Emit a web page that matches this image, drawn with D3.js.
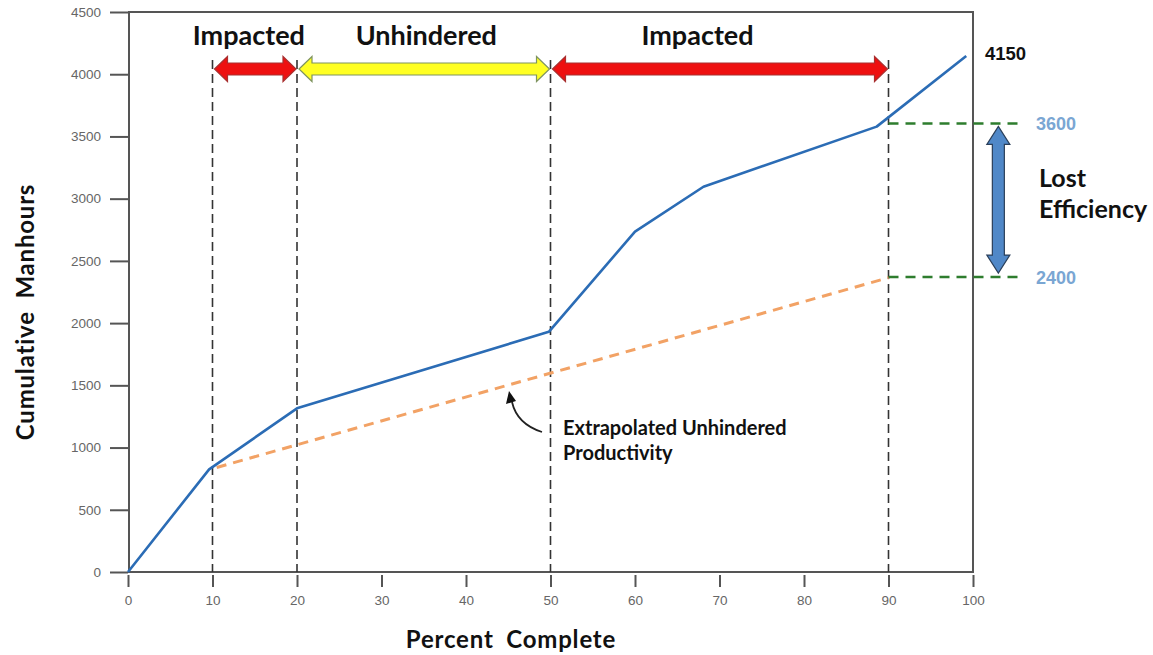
<!DOCTYPE html>
<html>
<head>
<meta charset="utf-8">
<script src="https://cdn.jsdelivr.net/npm/d3@7"></script>
<style>
  html, body { margin: 0; padding: 0; background: #fff; }
  svg { display: block; }
</style>
</head>
<body>
<svg id="chart" width="1153" height="655"></svg>
<script>
// ---------- data ----------
const xTicks = [0, 10, 20, 30, 40, 50, 60, 70, 80, 90, 100];
const yTicks = [0, 500, 1000, 1500, 2000, 2500, 3000, 3500, 4000, 4500];
const actualPct = [0, 9.6, 20, 49.8, 60, 68.1, 88.6, 99.2];
const actualHours = [0, 825, 1315, 1930, 2735, 3096, 3579, 4147];
const extrapPct = [10.5, 90];
const extrapHours = [840, 2365];
const phaseBounds = [10, 20, 50, 90];
const phaseNames = ["Impacted", "Unhindered", "Impacted"];
const phaseFrom = [10, 20, 50];
const phaseTo = [20, 50, 90];
const phaseLabelX = [14.3, 35.3, 67.4];
const phaseColors = ["#ee1010", "#ffff22", "#ee1010"];
const phaseStroke = ["#a83030", "#7f9460", "#a83030"];
const finalLabel = "4150";
const lostLevels = [3605, 2370];
const lostLabels = ["3600", "2400"];
const lostTitle = ["Lost", "Efficiency"];
const annotationLines = ["Extrapolated Unhindered", "Productivity"];
const xTitle = "Percent Complete";
const yTitle = "Cumulative Manhours";

// ---------- scales ----------
const svg = d3.select("#chart");
const x = d3.scaleLinear().domain([0, 100]).range([128, 973]);
const y = d3.scaleLinear().domain([0, 4500]).range([572, 12]);

// frame
svg.append("rect")
  .attr("x", x(0) + 1).attr("y", y(4500))
  .attr("width", x(100) - x(0) - 1).attr("height", y(0) - y(4500))
  .attr("fill", "none").attr("stroke", "#555").attr("stroke-width", 2);

// y axis
const yAxis = svg.append("g")
  .attr("transform", `translate(${x(0)},0)`)
  .call(d3.axisLeft(y).tickValues(yTicks).tickFormat(d3.format("d")).tickSize(18).tickPadding(9));
yAxis.select(".domain").remove();
yAxis.selectAll(".tick line").attr("stroke", "#555").attr("stroke-width", 2);
yAxis.selectAll(".tick text")
  .attr("fill", "#666").style("font-family", "Liberation Sans, Arial, sans-serif")
  .style("font-size", "13.5px");

// x axis
const xAxis = svg.append("g")
  .attr("transform", `translate(0,${y(0) + 3})`)
  .call(d3.axisBottom(x).tickValues(xTicks).tickFormat(d3.format("d")).tickSize(12).tickPadding(8));
xAxis.select(".domain").remove();
xAxis.selectAll(".tick line").attr("stroke", "#555").attr("stroke-width", 2);
xAxis.selectAll(".tick text")
  .attr("fill", "#666").style("font-family", "Liberation Sans, Arial, sans-serif")
  .style("font-size", "13.5px");

// vertical phase boundaries
svg.selectAll("line.bound").data(phaseBounds).enter().append("line")
  .attr("class", "bound")
  .attr("x1", d => x(d)).attr("x2", d => x(d))
  .attr("y1", 60).attr("y2", y(0))
  .attr("stroke", "#333").attr("stroke-width", 1.6)
  .attr("stroke-dasharray", "9,5");

// green lost-efficiency guides
svg.selectAll("line.lost").data(lostLevels).enter().append("line")
  .attr("class", "lost")
  .attr("x1", x(90)).attr("x2", x(105.6))
  .attr("y1", d => y(d)).attr("y2", d => y(d))
  .attr("stroke", "#2e7d2e").attr("stroke-width", 2.5)
  .attr("stroke-dasharray", "10,7");

// extrapolated line
const extrap = extrapPct.map((p, i) => [p, extrapHours[i]]);
svg.append("path")
  .datum(extrap)
  .attr("d", d3.line().x(d => x(d[0])).y(d => y(d[1])))
  .attr("fill", "none").attr("stroke", "#f2a265").attr("stroke-width", 3)
  .attr("stroke-dasharray", "10,7");

// actual line
const actual = actualPct.map((p, i) => [p, actualHours[i]]);
svg.append("path")
  .datum(actual)
  .attr("d", d3.line().x(d => x(d[0])).y(d => y(d[1])))
  .attr("fill", "none").attr("stroke", "#2b6cb5").attr("stroke-width", 2.6)
  .attr("stroke-linejoin", "round");

// double-headed arrows
function hArrow(x1, x2, cy, bh, hh, hl) {
  return `M${x1},${cy} L${x1 + hl},${cy - hh} L${x1 + hl},${cy - bh} L${x2 - hl},${cy - bh} ` +
         `L${x2 - hl},${cy - hh} L${x2},${cy} L${x2 - hl},${cy + hh} L${x2 - hl},${cy + bh} ` +
         `L${x1 + hl},${cy + bh} L${x1 + hl},${cy + hh} Z`;
}
function vArrow(cx, y1, y2, bw, hw, hl) {
  return `M${cx},${y1} L${cx + hw},${y1 + hl} L${cx + bw},${y1 + hl} L${cx + bw},${y2 - hl} ` +
         `L${cx + hw},${y2 - hl} L${cx},${y2} L${cx - hw},${y2 - hl} L${cx - bw},${y2 - hl} ` +
         `L${cx - bw},${y1 + hl} L${cx - hw},${y1 + hl} Z`;
}

phaseNames.forEach((name, i) => {
  svg.append("path")
    .attr("d", hArrow(x(phaseFrom[i]) + 2, x(phaseTo[i]) - 1, 69, 6, 12.5, 13))
    .attr("fill", phaseColors[i]).attr("stroke", phaseStroke[i]).attr("stroke-width", 1.2);
  svg.append("text")
    .attr("x", x(phaseLabelX[i])).attr("y", 45)
    .attr("text-anchor", "middle")
    .style("font-family", "Lato, sans-serif").style("font-weight", 700)
    .style("font-size", "27px").attr("fill", "#111")
    .text(name);
});

// final value label
svg.append("text")
  .attr("x", 985).attr("y", 60)
  .style("font-family", "Liberation Sans, Arial, sans-serif").style("font-weight", 700)
  .style("font-size", "18.5px").attr("fill", "#111")
  .text(finalLabel);

// lost efficiency arrow
svg.append("path")
  .attr("d", vArrow(x(103), y(lostLevels[0]) + 3, y(lostLevels[1]) - 4, 6, 11.5, 18))
  .attr("fill", "#5088c8").attr("stroke", "#2a3f5a").attr("stroke-width", 1.2);

lostLabels.forEach((t, i) => {
  svg.append("text")
    .attr("x", 1036).attr("y", y(lostLevels[i]) + 6.5)
    .style("font-family", "Liberation Sans, Arial, sans-serif").style("font-weight", 700)
    .style("font-size", "18px").attr("fill", "#7aa6d3")
    .text(t);
});

lostTitle.forEach((t, i) => {
  svg.append("text")
    .attr("x", 1039).attr("y", 187 + i * 31)
    .style("font-family", "Lato, sans-serif").style("font-weight", 700)
    .style("font-size", "25px").attr("fill", "#111")
    .text(t);
});

// annotation
annotationLines.forEach((t, i) => {
  svg.append("text")
    .attr("x", 563).attr("y", 435 + i * 25)
    .style("font-family", "Lato, sans-serif").style("font-weight", 700)
    .style("font-size", "20px").attr("fill", "#111")
    .text(t);
});
svg.append("path")
  .attr("d", "M542,432 Q517,424 512,402")
  .attr("fill", "none").attr("stroke", "#222").attr("stroke-width", 1.8);
svg.append("path")
  .attr("d", "M509,391 L506,404 L516,401 Z")
  .attr("fill", "#111");

// axis titles
svg.append("text")
  .attr("x", 511).attr("y", 648)
  .attr("text-anchor", "middle")
  .style("font-family", "Lato, sans-serif").style("font-weight", 700)
  .style("font-size", "24px").style("letter-spacing", "0.8px").style("word-spacing", "6px")
  .attr("fill", "#111")
  .text(xTitle);
svg.append("text")
  .attr("transform", "translate(34,312) rotate(-90)")
  .attr("text-anchor", "middle")
  .style("font-family", "Lato, sans-serif").style("font-weight", 700)
  .style("font-size", "24px").style("letter-spacing", "0.8px").style("word-spacing", "6px")
  .attr("fill", "#111")
  .text(yTitle);
</script>
</body>
</html>
